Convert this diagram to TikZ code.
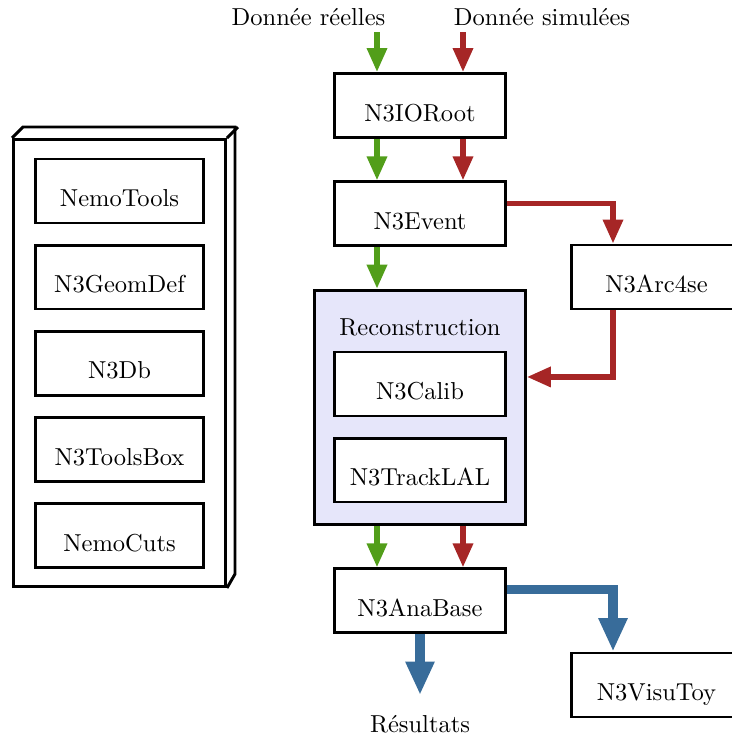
\documentclass[tikz,border=0pt]{standalone}
\definecolor{realgreen}{RGB}{82, 158, 26}
\definecolor{simred}{RGB}{166, 38, 38}
\definecolor{resblue}{RGB}{56, 108, 154}
\definecolor{recofill}{RGB}{230, 230, 250}
\usepackage{tikz}
\usetikzlibrary{arrows.meta, positioning, calc}

\begin{document}
\begin{tikzpicture}[
    x=0.408pt, y=-0.408pt,
    node distance=16.9pt,
    module/.style={
        rectangle, draw=black, fill=white, very thick, inner sep=0pt,
        minimum width=69.4pt, minimum height=26.1pt,
        text height=13pt, text depth=0pt
    },
    tool/.style={
        module, minimum width=68.5pt
    },
    group/.style={
        rectangle, draw=black, fill=recofill, very thick,
        minimum width=86pt, minimum height=95.6pt
    },
    stack/.style={
        rectangle, draw=black, fill=white, very thick,
        minimum width=86.5pt, minimum height=182.4pt
    },
    flowreal/.style={
        -{Triangle[width=7.9pt, length=9.8pt]}, line width=2.2pt, draw=realgreen
    },
    flowsim/.style={
        -{Triangle[width=7.9pt, length=9.8pt]}, line width=2.2pt, draw=simred
    },
    flowres/.style={
        -{Triangle[width=11pt, length=13.6pt]}, line width=3.8pt, draw=resblue
    }
]
\useasboundingbox (0,0) rectangle (732,739);

% Library stack (Left)
\node[stack] (libs) at (119.5,363) {};
\draw[very thick] (libs.north west) -- ++(11,-11) -- ++(212,0) -- ++(0,447) -- (libs.south east);
\draw[very thick] (libs.north east) -- ++(11,-11);
\node[tool] (nemotools) at (119.5,191) {NemoTools};
\node[tool, below=7.8pt of nemotools] (geomdef) {N3GeomDef};
\node[tool, below=7.8pt of geomdef] (db) {N3Db};
\node[tool, below=7.8pt of db] (toolsbox) {N3ToolsBox};
\node[tool, below=7.8pt of toolsbox] (nemocuts) {NemoCuts};

% Inputs (Top)
\node (reallbl) at (308.5,17) {Donnée réelles};
\node (simlbl) at (542,17) {Donnée simulées};
\coordinate (realin) at (377,32);
\coordinate (simin) at (463,32);

% Main chain (Centre)
\node[module] (ioroot) at (420,105.5) {N3IORoot};
\node[module, below=of ioroot] (event) {N3Event};
\node[group, below=of event] (reco) {};
\node (recotitle) at (420,327) {Reconstruction};
\node[module] (calib) at (420,384) {N3Calib};
\node[module, below=7.8pt of calib] (track) {N3TrackLAL};
\node[module, below=of reco] (ana) {N3AnaBase};

% Side modules (Right)
\node[module] (arc) at (656.5,277) {N3Arc4se};
\node[module] (visu) at (656.5,685) {N3VisuToy};
\coordinate (sidein) at (613,0);

% Results (Bottom)
\node (results) at (420,724) {Résultats};
\coordinate (resout) at (420,695);

% Relations
\draw[flowreal] (realin) -- (realin |- ioroot.north);
\draw[flowsim] (simin) -- (simin |- ioroot.north);
\draw[flowreal] (realin |- ioroot.south) -- (realin |- event.north);
\draw[flowsim] (simin |- ioroot.south) -- (simin |- event.north);
\draw[flowsim] ([yshift=4.1pt]event.east) -| (sidein |- arc.north);
\draw[flowreal] (realin |- event.south) -- (realin |- reco.north);
\draw[flowsim] (sidein |- arc.south) |- ([yshift=12.4pt]reco.east);
\draw[flowreal] (realin |- reco.south) -- (realin |- ana.north);
\draw[flowsim] (simin |- reco.south) -- (simin |- ana.north);
\draw[flowres] ([yshift=4.5pt]ana.east) -| (sidein |- visu.north);
\draw[flowres] (ana.south) -- (resout);

\end{tikzpicture}
\end{document}
